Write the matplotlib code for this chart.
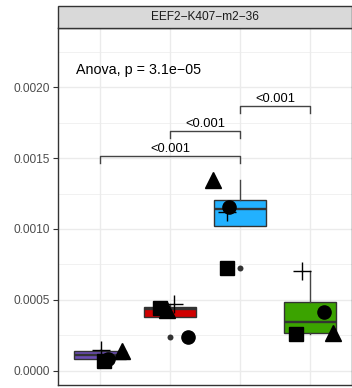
import numpy as np
import matplotlib
matplotlib.use('Agg')
import matplotlib.pyplot as plt
from matplotlib.patches import Rectangle

plt.rcParams['font.family'] = ['Liberation Sans', 'DejaVu Sans']

# values
panel_title = 'EEF2\u2212K407\u2212m2\u221236'
anova_label = 'Anova, p = 3.1e\u221205'
box_colors = ['#6a4cb5', '#d00000', '#22b1ff', '#3ba300']

circle = [0.000083, 0.000236, 0.001155, 0.000417]
triangle = [0.000140, 0.000430, 0.001343, 0.000268]
square = [0.000068, 0.000445, 0.000728, 0.000259]
plus = [0.000145, 0.000472, 0.001122, 0.000700]

# horizontal jitter of each point (category units)
jit_circle = [0.11, 0.25, -0.16, 0.20]
jit_triangle = [0.31, -0.05, -0.39, 0.33]
jit_square = [0.06, -0.15, -0.19, -0.20]
jit_plus = [0.02, 0.06, -0.19, -0.11]

# pairwise comparisons: (group a, group b, bracket height, label)
comparisons = [(1, 3, 0.001512, '<0.001'),
               (2, 3, 0.001690, '<0.001'),
               (3, 4, 0.001866, '<0.001')]

yticks = [0.0, 0.0005, 0.0010, 0.0015, 0.0020]
ytick_labels = ['0.0000', '0.0005', '0.0010', '0.0015', '0.0020']

W, H = 352, 388
fig = plt.figure(figsize=(W / 100, H / 100), dpi=100)
ax = fig.add_axes([58 / W, 3 / H, (W - 58) / W, (385 - 28.3) / H])

groups = np.arange(1, 5)
data = [[circle[i], triangle[i], square[i], plus[i]] for i in range(4)]

edge = '#333333'
bp = ax.boxplot(data, positions=groups, widths=0.75, patch_artist=True,
                whis=1.5, showcaps=False, manage_ticks=False,
                boxprops=dict(edgecolor=edge, linewidth=1.0),
                whiskerprops=dict(color='#444444', linewidth=1.0),
                medianprops=dict(color=edge, linewidth=1.7),
                flierprops=dict(marker='o', markersize=4.3, markerfacecolor=edge,
                                markeredgecolor='none'),
                zorder=2)
for patch, c in zip(bp['boxes'], box_colors):
    patch.set_facecolor(c)

ax.plot(groups + np.array(jit_circle), circle, 'o', color='black', ms=9.5, zorder=3)
ax.plot(groups + np.array(jit_triangle), triangle, '^', color='black', ms=11.5, zorder=3)
ax.plot(groups + np.array(jit_square), square, 's', color='black', ms=9.8, zorder=3)
ax.plot(groups + np.array(jit_plus), plus, '+', color='black', ms=12.5, mew=1.0, zorder=3)

tip = 0.000047
for a, b, y, lab in comparisons:
    ax.plot([a, a, b, b], [y - tip, y, y, y - tip], color='#444444', lw=1.0, zorder=3)
    ax.text((a + b) / 2, y + 0.000008, lab, ha='center', va='bottom', fontsize=9.3,
            color='black', zorder=4)

ax.text(0.657, 0.00212, anova_label, ha='left', va='center', fontsize=10.3, color='black')

ax.set_xlim(0.4, 4.6)
ax.set_ylim(-0.000101, 0.002416)
ax.set_xticks(groups)
ax.set_xticklabels([])
ax.tick_params(axis='x', length=0)
ax.set_yticks(yticks)
ax.set_yticklabels(ytick_labels)
ax.set_yticks(np.arange(0.00025, 0.0024, 0.0005), minor=True)
ax.tick_params(axis='y', which='major', length=3.5, width=0.8, color='#333333',
               labelsize=8.6, labelcolor='#4d4d4d', pad=2)
ax.tick_params(axis='y', which='minor', length=0)
ax.grid(which='major', color='#ebebeb', lw=1.0, zorder=0)
ax.grid(which='minor', axis='y', color='#ebebeb', lw=0.5, zorder=0)
ax.set_axisbelow(True)
for s in ax.spines.values():
    s.set_color('#333333')
    s.set_linewidth(1.0)

# facet strip
strip = Rectangle((58 / W, (H - 28.3) / H), (W - 58) / W, 22.6 / H,
                  transform=fig.transFigure, facecolor='#d9d9d9',
                  edgecolor='#333333', lw=1.0)
fig.patches.append(strip)
fig.text((58 + W) / 2 / W, (H - 17) / H, panel_title, ha='center', va='center',
         fontsize=8.6, color='#1a1a1a')

fig.savefig('out.png', dpi=100)
